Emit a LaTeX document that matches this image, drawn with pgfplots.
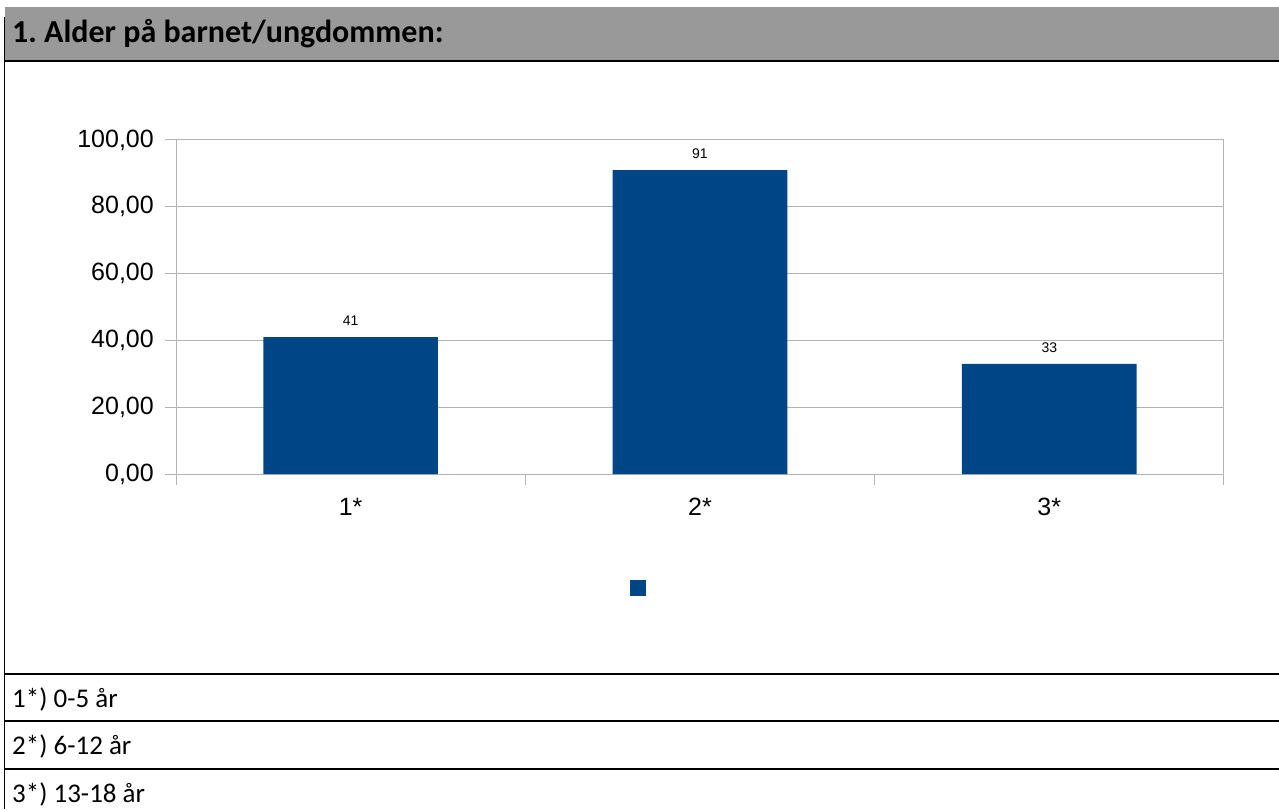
\documentclass[border=0pt]{standalone}
\usepackage{pgfplots}
\pgfplotsset{compat=1.18}
\usepackage{fontspec}
\setmainfont{Liberation Sans}
\newfontfamily\carlito{Carlito}
\definecolor{barc}{HTML}{004586}
\definecolor{gridc}{HTML}{B3B3B3}
\definecolor{headc}{HTML}{999999}
\frenchspacing
\begin{document}
\begin{tikzpicture}[x=1pt,y=1pt]
\useasboundingbox (0,0) rectangle (1279,809);
\fill[white] (0,0) rectangle (1279,809);
\fill[headc] (5,748) rectangle (1279,802);
\draw[line width=2pt] (4,748) -- (1279,748);
\draw[line width=1.5pt] (4.5,792) -- (4.5,0);
\foreach \y in {135,88,40} \draw[line width=1.5pt] (4,\y) -- (1279,\y);
\node[anchor=base west, inner sep=0pt, font=\carlito\bfseries\fontsize{32}{38}\selectfont] at (12,766) {1. Alder på barnet/ungdommen:};
\node[anchor=base west, inner sep=0pt, font=\carlito\fontsize{27}{32}\selectfont] at (12,102) {1*) 0-5 år};
\node[anchor=base west, inner sep=0pt, font=\carlito\fontsize{27}{32}\selectfont] at (12,54.5) {2*) 6-12 år};
\node[anchor=base west, inner sep=0pt, font=\carlito\fontsize{27}{32}\selectfont] at (12,7) {3*) 13-18 år};
\begin{axis}[
  at={(176pt,335pt)}, anchor=south west,
  width=1048pt, height=334pt, scale only axis,
  xmin=0.5, xmax=3.5, ymin=0, ymax=100,
  xtick={0.5,1.5,2.5,3.5}, xticklabels={},
  extra x ticks={1,2,3}, extra x tick labels={1*,2*,3*},
  extra x tick style={grid=none, major tick length=0pt},
  ytick={0,20,40,60,80,100},
  yticklabels={{0,00},{20,00},{40,00},{60,00},{80,00},{100,00}},
  ytick pos=left, xtick pos=bottom,
  /pgf/number format/assume math mode=true,
  ymajorgrids, grid style={draw=gridc, line width=1pt},
  axis line style={draw=gridc, line width=1pt},
  tick style={draw=gridc, line width=1pt},
  tick align=outside,
  major tick length=11pt,
  ticklabel style={font=\fontsize{25}{30}\selectfont, inner sep=0pt},
  xticklabel shift=24pt,
  yticklabel shift=11pt,
  legend image code/.code={\fill[#1,/tikz/.cd] (0pt,-8pt) rectangle (16pt,8pt);},
  legend style={draw=none, fill=none, inner sep=0pt, at={(rel axis cs:0.4332,-0.3413)}, anchor=west, nodes={inner sep=0pt}},
]
\addplot[ybar, bar width=0.5, fill=barc, draw=none,
  nodes near coords,
  every node near coord/.append style={font=\fontsize{14}{16}\selectfont, inner sep=0pt, yshift=11pt, text=black}]
  coordinates {(1,41) (2,91) (3,33)};
\addlegendentry{}
\end{axis}
\end{tikzpicture}
\end{document}
